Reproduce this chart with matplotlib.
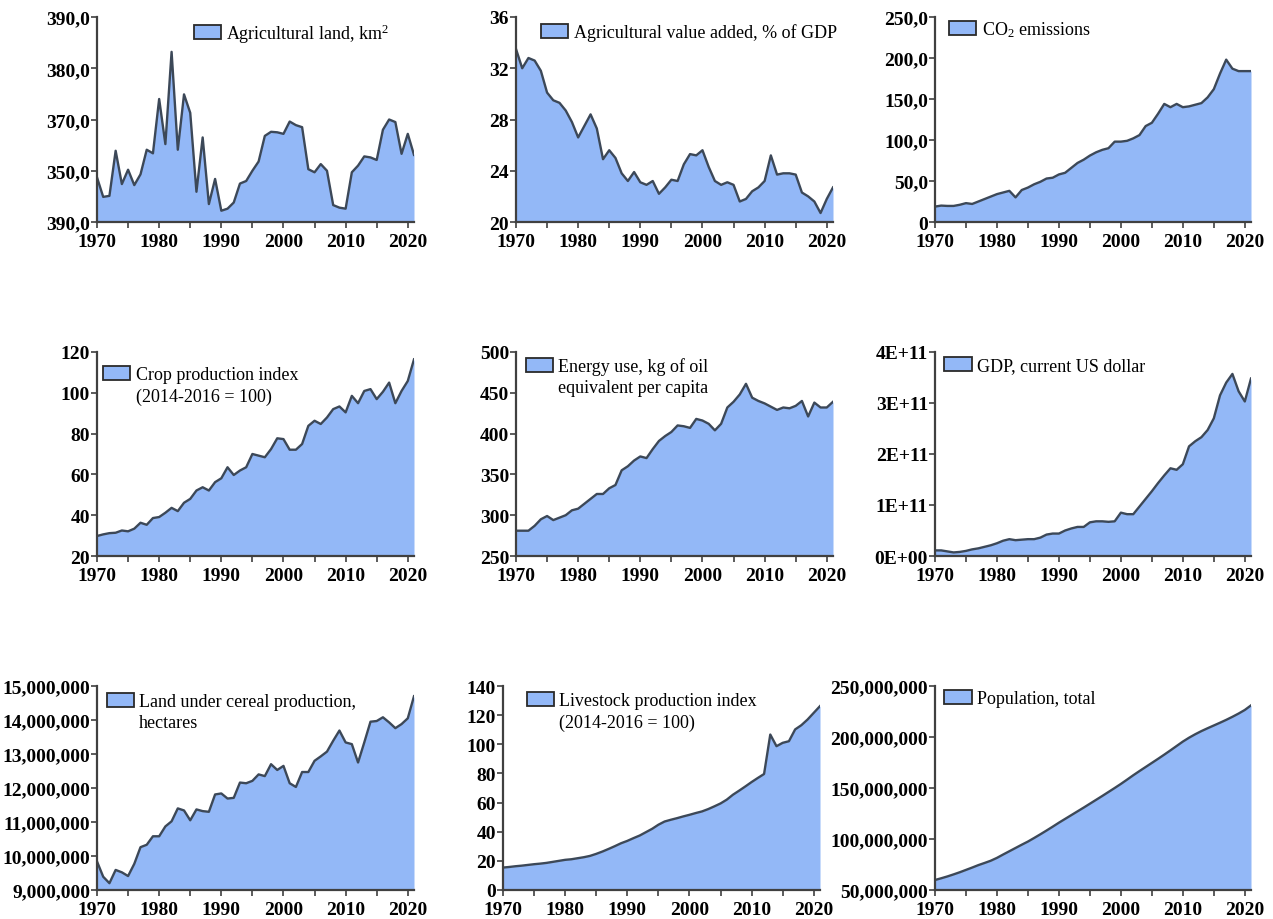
import matplotlib
matplotlib.use("Agg")
import matplotlib.pyplot as plt
from matplotlib.patches import Patch
from matplotlib.ticker import FixedLocator, MultipleLocator

plt.rcParams['font.family'] = ['Liberation Serif', 'DejaVu Serif']
plt.rcParams['mathtext.fontset'] = 'custom'
plt.rcParams['mathtext.rm'] = 'Liberation Serif'
plt.rcParams['mathtext.it'] = 'Liberation Serif:italic'

years = list(range(1970, 2022))

agri_land = [358.7, 354.9, 355.1, 363.9, 357.4, 360.2, 357.2, 359.3, 364.1, 363.4,
             374.0, 365.2, 383.2, 364.1, 374.9, 371.3, 355.9, 366.5, 353.5, 358.4,
             352.2, 352.6, 353.8, 357.5, 358.0, 360.0, 361.8, 366.8, 367.6, 367.5,
             367.2, 369.6, 368.9, 368.5, 360.3, 359.7, 361.3, 360.0, 353.3, 352.8,
             352.6, 359.7, 361.0, 362.8, 362.6, 362.1, 368.0, 370.0, 369.5, 363.3,
             367.2, 363.1]

agri_va = [33.5, 32.0, 32.8, 32.6, 31.8, 30.1, 29.5, 29.3, 28.7, 27.8,
           26.6, 27.5, 28.4, 27.3, 24.9, 25.6, 25.0, 23.8, 23.2, 23.9,
           23.1, 22.9, 23.2, 22.2, 22.7, 23.3, 23.2, 24.5, 25.3, 25.2,
           25.6, 24.3, 23.2, 22.9, 23.1, 22.9, 21.6, 21.8, 22.4, 22.7,
           23.2, 25.2, 23.7, 23.8, 23.8, 23.7, 22.3, 22.0, 21.6, 20.7,
           21.8, 22.7]

co2 = [18.8, 20, 19.6, 19.6, 21, 23, 22, 25, 28, 31,
       34, 36, 38, 30, 39, 42, 46, 49, 53, 54,
       58, 60, 66, 72, 76, 81, 85, 88, 90, 98,
       98, 99, 102, 106, 117, 121, 132, 144, 140, 144,
       140, 141, 143, 145, 152, 162, 181, 198, 187, 184,
       184, 184]

crop_index = [29.8, 30.6, 31.2, 31.4, 32.5, 32.1, 33.4, 36.3, 35.3, 38.6,
              39.1, 41.2, 43.6, 42.0, 46.1, 48.0, 52.1, 53.7, 52.1, 56.2,
              58.1, 63.5, 59.7, 61.9, 63.5, 70.0, 69.2, 68.4, 72.4, 77.7,
              77.3, 72.1, 72.1, 74.9, 83.8, 86.3, 84.7, 87.9, 92.0, 93.3,
              90.4, 98.5, 94.9, 100.9, 101.8, 96.9, 100.5, 105.0, 94.9, 100.9,
              105.8, 116.4]

energy_use = [281, 281, 281, 287, 295, 299, 294, 297, 300, 306,
              308, 314, 320, 326, 326, 333, 337, 355, 360, 367,
              372, 370, 381, 391, 397, 402, 410, 409, 407, 418,
              416, 412, 404, 412, 432, 439, 448, 461, 444, 440,
              437, 433, 429, 432, 431, 434, 440, 421, 438, 432,
              432, 439]

gdp_usd = [v * 1e11 for v in
           [0.11, 0.11, 0.09, 0.07, 0.08, 0.10, 0.13, 0.15, 0.18, 0.21,
            0.25, 0.30, 0.33, 0.31, 0.32, 0.33, 0.33, 0.36, 0.42, 0.44,
            0.44, 0.50, 0.54, 0.57, 0.57, 0.66, 0.68, 0.68, 0.67, 0.68,
            0.85, 0.82, 0.82, 0.97, 1.12, 1.27, 1.43, 1.58, 1.72, 1.69,
            1.80, 2.15, 2.25, 2.33, 2.47, 2.70, 3.15, 3.40, 3.57, 3.23,
            3.03, 3.48]]

cereal_land = [v * 1e6 for v in
               [9.84, 9.39, 9.20, 9.59, 9.52, 9.41, 9.77, 10.26, 10.33, 10.58,
                10.58, 10.87, 11.02, 11.40, 11.34, 11.05, 11.37, 11.32, 11.30, 11.81,
                11.84, 11.69, 11.71, 12.16, 12.14, 12.21, 12.40, 12.35, 12.70, 12.53,
                12.65, 12.14, 12.03, 12.47, 12.47, 12.80, 12.93, 13.07, 13.39, 13.69,
                13.34, 13.29, 12.75, 13.34, 13.95, 13.97, 14.08, 13.93, 13.76, 13.88,
                14.05, 14.70]]

livestock_index = [15.4, 15.8, 16.3, 16.7, 17.2, 17.7, 18.1, 18.6, 19.3, 20.0,
                   20.7, 21.1, 21.8, 22.5, 23.4, 24.8, 26.4, 28.2, 30.1, 32.1,
                   33.7, 35.6, 37.4, 39.7, 42.0, 44.8, 47.0, 48.2, 49.3, 50.5,
                   51.6, 52.8, 53.9, 55.5, 57.4, 59.4, 62.0, 65.4, 68.2, 71.1,
                   74.1, 76.9, 79.6, 106.7, 98.7, 101.0, 102.1, 110.2, 113.1, 117.0,
                   121.6, 126.2]

population = [v * 1e6 for v in
              [59.8, 61.5, 63.3, 65.3, 67.4, 69.7, 72.0, 74.4, 76.5, 78.7,
               81.5, 84.8, 88.0, 91.2, 94.4, 97.5, 101.0, 104.6, 108.3, 112.1,
               116.0, 119.7, 123.4, 127.1, 130.8, 134.6, 138.4, 142.2, 146.1, 150.0,
               154.0, 158.2, 162.5, 166.6, 170.6, 174.6, 178.6, 182.7, 186.9, 191.2,
               195.5, 199.3, 202.7, 205.8, 208.6, 211.3, 214.0, 216.8, 219.8, 223.0,
               226.5, 231.0]]

x_ticks = [1970, 1980, 1990, 2000, 2010, 2020]

agri_land_ticks = [350, 360, 370, 380, 390]
agri_land_labels = ["390,0", "350,0", "370,0", "380,0", "390,0"]
agri_va_ticks = [20, 24, 28, 32, 36]
co2_ticks = [0, 50, 100, 150, 200, 250]
co2_labels = ["0", "50,0", "100,0", "150,0", "200,0", "250,0"]
crop_ticks = [20, 40, 60, 80, 100, 120]
energy_ticks = [250, 300, 350, 400, 450, 500]
gdp_ticks = [0, 1e11, 2e11, 3e11, 4e11]
gdp_labels = ["0E+00", "1E+11", "2E+11", "3E+11", "4E+11"]
cereal_ticks = [9e6, 10e6, 11e6, 12e6, 13e6, 14e6, 15e6]
cereal_labels = ["9,000,000", "10,000,000", "11,000,000", "12,000,000",
                 "13,000,000", "14,000,000", "15,000,000"]
livestock_ticks = [0, 20, 40, 60, 80, 100, 120, 140]
pop_ticks = [50e6, 100e6, 150e6, 200e6, 250e6]
pop_labels = ["50,000,000", "100,000,000", "150,000,000", "200,000,000", "250,000,000"]

FILL = '#93b8f7'
EDGE = '#3c4858'
SPINE = '#404040'

W, H = 1273, 920
fig = plt.figure(figsize=(W / 100, H / 100), dpi=100, facecolor='white')


def box(l, t, r, b):
    return [l / W, 1 - b / H, (r - l) / W, (b - t) / H]


def panel(rect, values, ylim, yticks, ylabels, label_lines, leg_x, leg_y):
    ax = fig.add_axes(box(*rect))
    ax.fill_between(years, values, ylim[0], color=FILL, lw=0, zorder=1)
    ax.plot(years, values, color=EDGE, lw=1.7, zorder=2, solid_joinstyle='round')
    ax.set_xlim(1970, 2021)
    ax.set_ylim(*ylim)
    ax.xaxis.set_major_locator(FixedLocator(x_ticks))
    ax.xaxis.set_minor_locator(MultipleLocator(5))
    ax.yaxis.set_major_locator(FixedLocator(yticks))
    if ylabels is not None:
        ax.set_yticklabels(ylabels)
    for s in ('top', 'right'):
        ax.spines[s].set_visible(False)
    for s in ('left', 'bottom'):
        ax.spines[s].set_color(SPINE)
        ax.spines[s].set_linewidth(1.6)
        ax.spines[s].set_zorder(3)
    ax.tick_params(axis='both', which='both', direction='out', color=SPINE,
                   width=1.2, length=4, labelsize=14, pad=1)
    ax.tick_params(axis='x', which='major', pad=4)
    for t in ax.get_xticklabels() + ax.get_yticklabels():
        t.set_fontweight('bold')
    # swatch sits beside the first line; continuation lines get an empty handle
    handles = [Patch(facecolor=FILL, edgecolor='#2a2a2a', lw=1.3)]
    handles += [Patch(facecolor='none', edgecolor='none')] * (len(label_lines) - 1)
    ax.legend(handles, label_lines, loc='upper left', bbox_to_anchor=(leg_x, leg_y),
              frameon=False, fontsize=13, borderpad=0, borderaxespad=0,
              handlelength=1.5, handleheight=0.8, handletextpad=0.3,
              labelspacing=0.22)
    return ax


C1, C2, C3 = (97, 414), (516, 833), (935, 1251)
R1, R2, R3 = (18, 223), (353, 557), (687, 891)

panel((C1[0], R1[0], C1[1], R1[1]), agri_land, (350, 390), agri_land_ticks,
      agri_land_labels, ['Agricultural land, km$^2$'], 0.305, 0.98)
panel((C2[0], R1[0], C2[1], R1[1]), agri_va, (20, 36), agri_va_ticks,
      None, ['Agricultural value added, % of GDP'], 0.08, 0.97)
panel((C3[0], R1[0], C3[1], R1[1]), co2, (0, 250), co2_ticks,
      co2_labels, ['CO$_2$ emissions'], 0.045, 0.99)

panel((C1[0], R2[0], C1[1], R2[1]), crop_index, (20, 120), crop_ticks,
      None, ['Crop production index', '(2014-2016 = 100)'], 0.02, 0.93)
panel((C2[0], R2[0], C2[1], R2[1]), energy_use, (250, 500), energy_ticks,
      None, ['Energy use, kg of oil', 'equivalent per capita'], 0.03, 0.975)
panel((C3[0], R2[0], C3[1], R2[1]), gdp_usd, (0, 4e11), gdp_ticks,
      gdp_labels, ['GDP, current US dollar'], 0.03, 0.975)

panel((C1[0], R3[0], C1[1], R3[1]), cereal_land, (9e6, 15e6), cereal_ticks,
      cereal_labels, ['Land under cereal production,', 'hectares'], 0.03, 0.965)
panel((503, R3[0], 820, R3[1]), livestock_index, (0, 140), livestock_ticks,
      None, ['Livestock production index', '(2014-2016 = 100)'], 0.075, 0.97)
panel((C3[0], R3[0], C3[1], R3[1]), population, (50e6, 250e6), pop_ticks,
      pop_labels, ['Population, total'], 0.03, 0.98)

fig.savefig('out.png', dpi=100, facecolor='white')
